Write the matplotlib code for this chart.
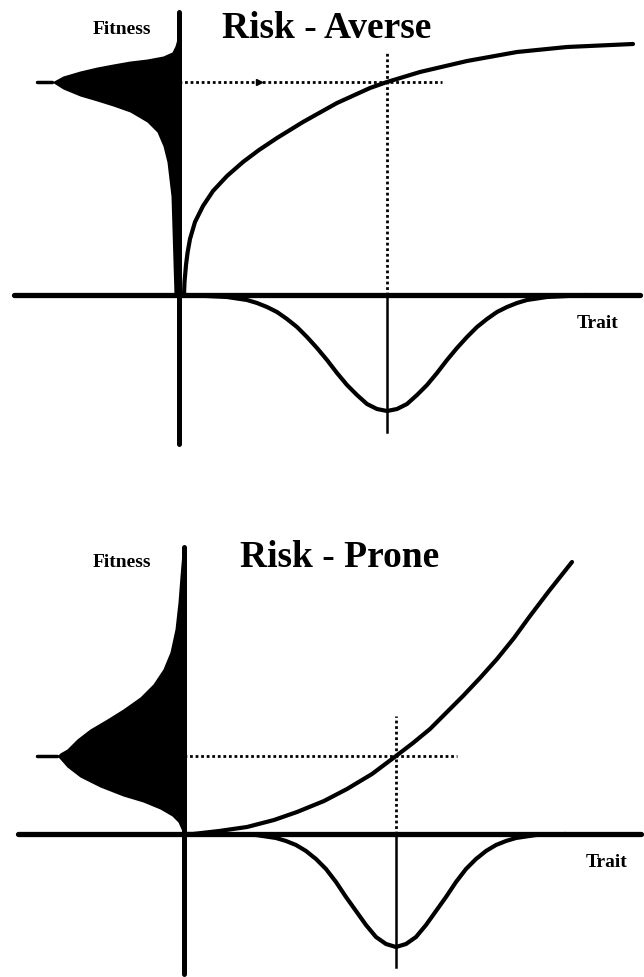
import matplotlib
matplotlib.use('Agg')
import matplotlib.pyplot as plt

plt.rcParams['font.family'] = ['Liberation Serif', 'DejaVu Serif']

# ---- Risk - Averse (concave fitness curve) ----
# trait value vs fitness (origin = where the axes cross)
averse_x = [5, 5.5, 7, 8.5, 11, 16, 24, 34, 48, 64, 80, 98, 124, 158, 191, 208, 241, 288, 338, 388, 454]
averse_y = [0, 13, 30, 42, 56, 73, 89, 104, 119, 133, 145, 157, 173, 192, 207, 213, 223, 234, 243, 248, 251]

# trait distribution below the axis
averse_trait_x = [8, 28, 48, 68, 78, 88, 98, 108, 118, 128, 138, 148, 158, 168, 178, 188, 198, 208,
                  218, 228, 238, 248, 258, 268, 278, 288, 298, 308, 318, 328, 338, 348, 368, 388, 408]
averse_trait_y = [0, -1, -2, -5, -8, -12, -17, -24, -32, -42, -53, -65, -78, -90, -100, -109, -114, -116,
                  -114, -109, -100, -90, -78, -65, -53, -42, -32, -24, -17, -12, -8, -5, -2, -1, 0]

# fitness distribution left of the axis (height, width)
averse_fit_y = [0, 33, 66, 99, 116, 133, 149, 163, 173, 183, 189, 194, 199, 206, 213,
                219, 224, 228, 231, 234, 236, 239, 243, 249, 256, 262]
averse_fit_w = [5, 6, 7, 8, 10, 12, 16, 22, 32, 49, 66, 82, 99, 116, 127,
                116, 99, 82, 66, 49, 32, 16, 7, 4, 2, 0]
averse_mean = (208, 213)

# ---- Risk - Prone (convex fitness curve) ----
prone_x = [0, 9, 35, 63, 90, 113, 140, 163, 188, 212, 229, 246, 262, 279, 296, 313, 330, 346, 365, 388]
prone_y = [0, 0, 3, 7, 14, 22, 33, 45, 60, 78, 91, 105, 121, 138, 156, 175, 196, 218, 243, 272]

prone_trait_x = [42, 72, 92, 102, 112, 122, 132, 142, 152, 162, 172, 182, 192, 202, 212,
                 222, 232, 242, 252, 262, 272, 282, 292, 302, 312, 322, 332, 352, 382]
prone_trait_y = [0, -1, -4, -7, -11, -17, -25, -35, -48, -63, -77, -91, -103, -110, -113,
                 -110, -103, -91, -77, -63, -48, -35, -25, -17, -11, -7, -4, -1, 0]

prone_fit_y = [0, 3, 12, 18, 25, 32, 38, 47, 57, 67, 75, 78, 81, 85, 95, 105, 115, 125,
               137, 150, 165, 182, 205, 232, 258, 282, 287]
prone_fit_w = [2, 2, 6, 12, 24, 41, 61, 84, 104, 117, 124, 127, 124, 117, 107, 94, 77, 61,
               44, 31, 21, 14, 9, 6, 4, 2, 0]
prone_mean = (212, 78)

panels = [
    dict(title='Risk - Averse', cx=averse_x, cy=averse_y, tx=averse_trait_x, ty=averse_trait_y,
         fy=averse_fit_y, fw=averse_fit_w, mean=averse_mean,
         xlim=(-179, 465), ylim=(-193, 296), rect=[0, 0.5, 1, 0.5],
         hax=(-165, 461), vax=(-149, 283), vdot_top=244, vsolid_bot=-137, hdot_end=263,
         title_xy=(148, 267), fit_xy=(-57, 266), trait_xy=(419, -28), tip=-142, arrow=80),
    dict(title='Risk - Prone', cx=prone_x, cy=prone_y, tx=prone_trait_x, ty=prone_trait_y,
         fy=prone_fit_y, fw=prone_fit_w, mean=prone_mean,
         xlim=(-184, 460), ylim=(-143, 346), rect=[0, 0, 1, 0.5],
         hax=(-166, 457), vax=(-140, 287), vdot_top=118, vsolid_bot=-133, hdot_end=273,
         title_xy=(156, 277), fit_xy=(-62, 272), trait_xy=(423, -28), tip=-147, arrow=None),
]

fig = plt.figure(figsize=(6.44, 9.78), dpi=100)

for p in panels:
    ax = fig.add_axes(p['rect'])
    ax.set_xlim(*p['xlim'])
    ax.set_ylim(*p['ylim'])
    ax.axis('off')

    # axes
    ax.plot(p['hax'], [0, 0], color='black', lw=3.8, solid_capstyle='round')
    ax.plot([0, 0], p['vax'], color='black', lw=3.6, solid_capstyle='round')

    # fitness distribution
    ax.fill_betweenx(p['fy'], [-w for w in p['fw']], 0, color='black', lw=0)
    mx, my = p['mean']
    ax.plot([p['tip'], -max(p['fw'])], [my, my], color='black', lw=2.5,
            solid_capstyle='round')

    # guide lines through the mean
    ax.plot([0, p['hdot_end']], [my, my], color='black', lw=2, ls=(0, (1, 1)))
    ax.plot([mx, mx], [0, p['vdot_top']], color='black', lw=2, ls=(0, (1, 1)))
    ax.plot([mx, mx], [0, p['vsolid_bot']], color='black', lw=1.8)
    if p['arrow'] is not None:
        ax.plot([p['arrow']], [my], marker='>', color='black', ms=5)

    # fitness curve and trait distribution
    ax.plot(p['cx'], p['cy'], color='black', lw=3, solid_capstyle='round', solid_joinstyle='round')
    ax.plot(p['tx'], p['ty'], color='black', lw=3, solid_capstyle='round', solid_joinstyle='round')

    # labels
    ax.text(*p['title_xy'], p['title'], fontsize=27, fontweight='bold', ha='center', va='center')
    ax.text(*p['fit_xy'], 'Fitness', fontsize=14, fontweight='bold', ha='center', va='center')
    ax.text(*p['trait_xy'], 'Trait', fontsize=14, fontweight='bold', ha='center', va='center')

fig.savefig('out.png', dpi=100, facecolor='white')
